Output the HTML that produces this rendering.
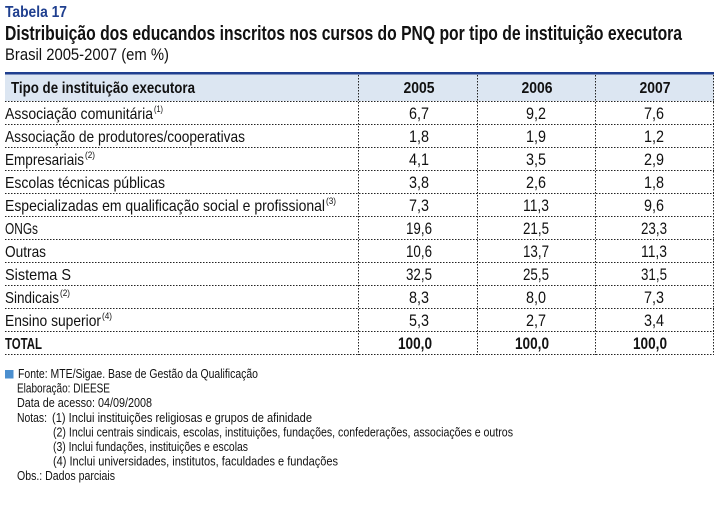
<!DOCTYPE html>
<html><head><meta charset="utf-8"><style>
body{margin:0;background:#fff;width:722px;height:516px;overflow:hidden}
svg{display:block;font-family:"Liberation Sans",sans-serif;fill:#111}
</style></head><body>
<svg width="722" height="516" viewBox="0 0 722 516" xmlns="http://www.w3.org/2000/svg">
<text x="5" y="17" font-size="16" font-weight="bold" fill="#1f3f8f" textLength="62" lengthAdjust="spacingAndGlyphs">Tabela 17</text>
<text x="5" y="40" font-size="20" font-weight="bold" textLength="677" lengthAdjust="spacingAndGlyphs">Distribuição dos educandos inscritos nos cursos do PNQ por tipo de instituição executora</text>
<text x="5" y="60" font-size="17" textLength="164" lengthAdjust="spacingAndGlyphs">Brasil 2005-2007 (em %)</text>
<rect x="5" y="74" width="709" height="27" fill="#dce6f2"/>
<rect x="5" y="72" width="709" height="2.5" fill="#1f3f8f"/>
<g stroke="#222" stroke-width="1" stroke-dasharray="1.5,1.5">
<line x1="5" x2="714" y1="101.5" y2="101.5"/>
<line x1="5" x2="714" y1="124.5" y2="124.5"/>
<line x1="5" x2="714" y1="147.5" y2="147.5"/>
<line x1="5" x2="714" y1="170.5" y2="170.5"/>
<line x1="5" x2="714" y1="193.5" y2="193.5"/>
<line x1="5" x2="714" y1="216.5" y2="216.5"/>
<line x1="5" x2="714" y1="239.5" y2="239.5"/>
<line x1="5" x2="714" y1="262.5" y2="262.5"/>
<line x1="5" x2="714" y1="285.5" y2="285.5"/>
<line x1="5" x2="714" y1="308.5" y2="308.5"/>
<line x1="5" x2="714" y1="331.5" y2="331.5"/>
<line x1="5" x2="714" y1="354.5" y2="354.5"/>
<line x1="358.5" x2="358.5" y1="75" y2="355"/>
<line x1="477.5" x2="477.5" y1="75" y2="355"/>
<line x1="595.5" x2="595.5" y1="75" y2="355"/>
<line x1="713.5" x2="713.5" y1="75" y2="355"/>
</g>
<g font-size="16" font-weight="bold">
<text x="11" y="93" textLength="184" lengthAdjust="spacingAndGlyphs">Tipo de instituição executora</text>
<text x="419" y="93" text-anchor="middle" textLength="31" lengthAdjust="spacingAndGlyphs">2005</text>
<text x="537" y="93" text-anchor="middle" textLength="31" lengthAdjust="spacingAndGlyphs">2006</text>
<text x="655" y="93" text-anchor="middle" textLength="31" lengthAdjust="spacingAndGlyphs">2007</text>
</g>
<g font-size="16">
<text x="5" y="119" textLength="148" lengthAdjust="spacingAndGlyphs">Associação comunitária</text><text x="154" y="112" font-size="9" textLength="9" lengthAdjust="spacingAndGlyphs">(1)</text>
<text x="5" y="142" textLength="240" lengthAdjust="spacingAndGlyphs">Associação de produtores/cooperativas</text>
<text x="5" y="165" textLength="79" lengthAdjust="spacingAndGlyphs">Empresariais</text><text x="85" y="158" font-size="9" textLength="10" lengthAdjust="spacingAndGlyphs">(2)</text>
<text x="5" y="188" textLength="160" lengthAdjust="spacingAndGlyphs">Escolas técnicas públicas</text>
<text x="5" y="211" textLength="320" lengthAdjust="spacingAndGlyphs">Especializadas em qualificação social e profissional</text><text x="326" y="204" font-size="9" textLength="10" lengthAdjust="spacingAndGlyphs">(3)</text>
<text x="5" y="234" textLength="33" lengthAdjust="spacingAndGlyphs">ONGs</text>
<text x="5" y="257" textLength="41" lengthAdjust="spacingAndGlyphs">Outras</text>
<text x="5" y="280" textLength="66" lengthAdjust="spacingAndGlyphs">Sistema S</text>
<text x="5" y="303" textLength="54" lengthAdjust="spacingAndGlyphs">Sindicais</text><text x="60" y="296" font-size="9" textLength="10" lengthAdjust="spacingAndGlyphs">(2)</text>
<text x="5" y="326" textLength="96" lengthAdjust="spacingAndGlyphs">Ensino superior</text><text x="102" y="319" font-size="9" textLength="10" lengthAdjust="spacingAndGlyphs">(4)</text>
<text x="5" y="349" font-weight="bold" textLength="37" lengthAdjust="spacingAndGlyphs">TOTAL</text>
</g>
<g font-size="17" text-anchor="middle">
<text x="419" y="119" textLength="20" lengthAdjust="spacingAndGlyphs">6,7</text><text x="536" y="119" textLength="20" lengthAdjust="spacingAndGlyphs">9,2</text><text x="654" y="119" textLength="20" lengthAdjust="spacingAndGlyphs">7,6</text>
<text x="419" y="142" textLength="20" lengthAdjust="spacingAndGlyphs">1,8</text><text x="536" y="142" textLength="20" lengthAdjust="spacingAndGlyphs">1,9</text><text x="654" y="142" textLength="20" lengthAdjust="spacingAndGlyphs">1,2</text>
<text x="419" y="165" textLength="20" lengthAdjust="spacingAndGlyphs">4,1</text><text x="536" y="165" textLength="20" lengthAdjust="spacingAndGlyphs">3,5</text><text x="654" y="165" textLength="20" lengthAdjust="spacingAndGlyphs">2,9</text>
<text x="419" y="188" textLength="20" lengthAdjust="spacingAndGlyphs">3,8</text><text x="536" y="188" textLength="20" lengthAdjust="spacingAndGlyphs">2,6</text><text x="654" y="188" textLength="20" lengthAdjust="spacingAndGlyphs">1,8</text>
<text x="419" y="211" textLength="20" lengthAdjust="spacingAndGlyphs">7,3</text><text x="536" y="211" textLength="26" lengthAdjust="spacingAndGlyphs">11,3</text><text x="654" y="211" textLength="20" lengthAdjust="spacingAndGlyphs">9,6</text>
<text x="419" y="234" textLength="26" lengthAdjust="spacingAndGlyphs">19,6</text><text x="536" y="234" textLength="26" lengthAdjust="spacingAndGlyphs">21,5</text><text x="654" y="234" textLength="26" lengthAdjust="spacingAndGlyphs">23,3</text>
<text x="419" y="257" textLength="26" lengthAdjust="spacingAndGlyphs">10,6</text><text x="536" y="257" textLength="26" lengthAdjust="spacingAndGlyphs">13,7</text><text x="654" y="257" textLength="26" lengthAdjust="spacingAndGlyphs">11,3</text>
<text x="419" y="280" textLength="26" lengthAdjust="spacingAndGlyphs">32,5</text><text x="536" y="280" textLength="26" lengthAdjust="spacingAndGlyphs">25,5</text><text x="654" y="280" textLength="26" lengthAdjust="spacingAndGlyphs">31,5</text>
<text x="419" y="303" textLength="20" lengthAdjust="spacingAndGlyphs">8,3</text><text x="536" y="303" textLength="20" lengthAdjust="spacingAndGlyphs">8,0</text><text x="654" y="303" textLength="20" lengthAdjust="spacingAndGlyphs">7,3</text>
<text x="419" y="326" textLength="20" lengthAdjust="spacingAndGlyphs">5,3</text><text x="536" y="326" textLength="20" lengthAdjust="spacingAndGlyphs">2,7</text><text x="654" y="326" textLength="20" lengthAdjust="spacingAndGlyphs">3,4</text>
<g font-weight="bold"><text x="415" y="349" textLength="34" lengthAdjust="spacingAndGlyphs">100,0</text><text x="532" y="349" textLength="34" lengthAdjust="spacingAndGlyphs">100,0</text><text x="650" y="349" textLength="34" lengthAdjust="spacingAndGlyphs">100,0</text></g>
</g>
<rect x="5" y="370" width="8.5" height="8.5" fill="#4b8fcf"/>
<g font-size="13">
<text x="18" y="378" textLength="240" lengthAdjust="spacingAndGlyphs">Fonte: MTE/Sigae. Base de Gestão da Qualificação</text>
<text x="17" y="392.6" textLength="93" lengthAdjust="spacingAndGlyphs">Elaboração: DIEESE</text>
<text x="17" y="407.2" textLength="135" lengthAdjust="spacingAndGlyphs">Data de acesso: 04/09/2008</text>
<text x="17" y="421.8" textLength="30" lengthAdjust="spacingAndGlyphs">Notas:</text>
<text x="52" y="421.8" textLength="260" lengthAdjust="spacingAndGlyphs">(1) Inclui instituições religiosas e grupos de afinidade</text>
<text x="53" y="436.4" textLength="460" lengthAdjust="spacingAndGlyphs">(2) Inclui centrais sindicais, escolas, instituições, fundações, confederações, associações e outros</text>
<text x="53" y="451" textLength="195" lengthAdjust="spacingAndGlyphs">(3) Inclui fundações, instituições e escolas</text>
<text x="53" y="465.6" textLength="285" lengthAdjust="spacingAndGlyphs">(4) Inclui universidades, institutos, faculdades e fundações</text>
<text x="17" y="480.2" textLength="98" lengthAdjust="spacingAndGlyphs">Obs.: Dados parciais</text>
</g>
</svg>
</body></html>
